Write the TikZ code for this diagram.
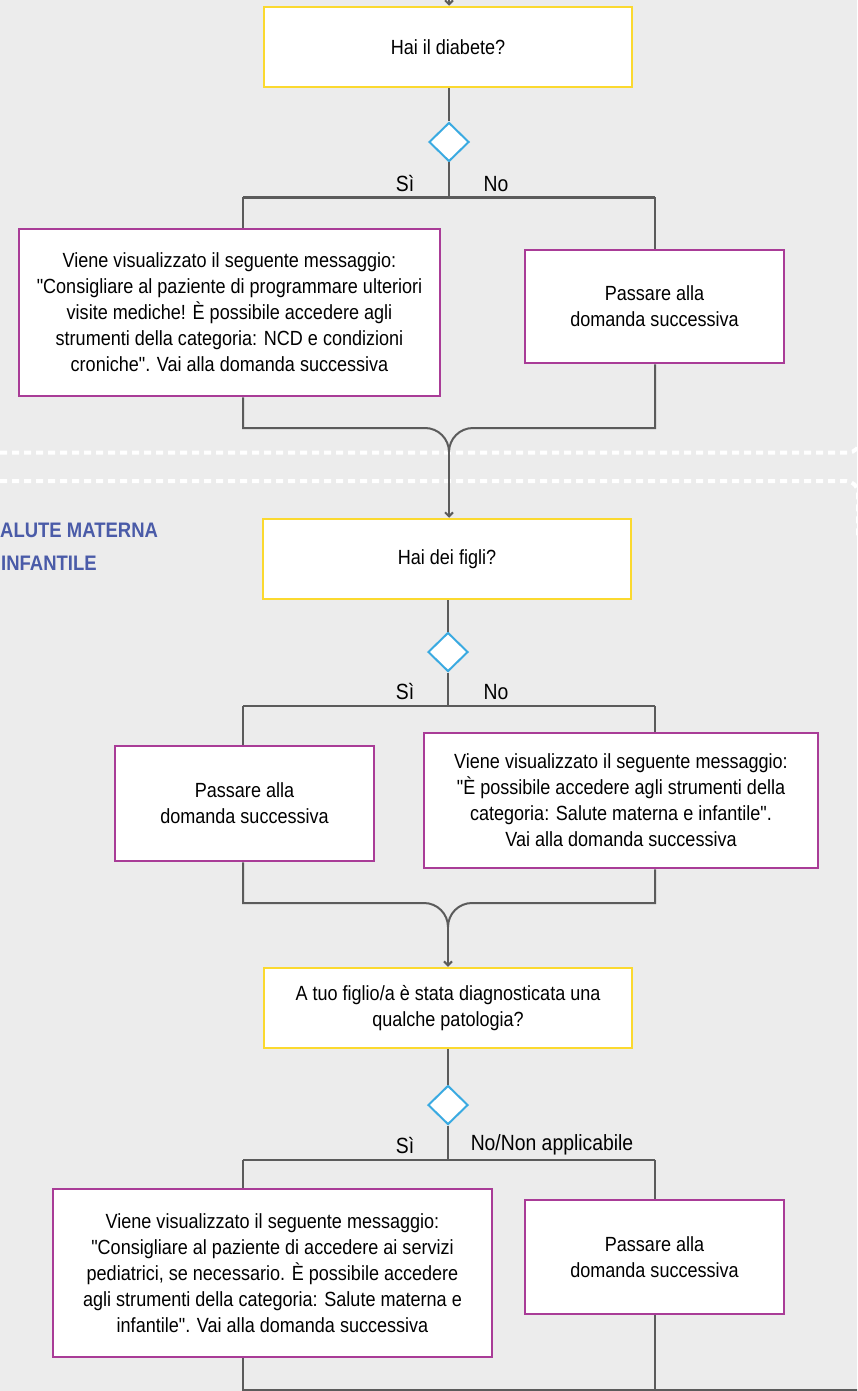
\documentclass[tikz,border=0pt]{standalone}
\usepackage{fontspec}
\setmainfont{Liberation Sans}[FakeStretch=0.88, Ligatures=TeXOff]
\usetikzlibrary{arrows.meta,shapes.geometric}
\definecolor{bgc}{HTML}{ECECEC}
\definecolor{ybord}{HTML}{FBD92F}
\definecolor{mbord}{HTML}{A93C97}
\definecolor{dblue}{HTML}{3AAAE1}
\definecolor{lcol}{HTML}{5B5B5B}
\definecolor{hblue}{HTML}{4A5BA8}
\begin{document}
\begin{tikzpicture}[x=1pt,y=-1pt,
  txt/.style={font=\fontsize{20.5}{26}\selectfont, align=center, text=black},
  qbox/.style={txt, draw=ybord, line width=2.5pt, fill=white, inner sep=0pt},
  mbox/.style={txt, draw=mbord, line width=2.5pt, fill=white, inner sep=0pt},
  decis/.style={diamond, draw=dblue, line width=2pt, fill=white, inner sep=0pt, minimum width=40pt, minimum height=39pt},
  conn/.style={draw=lcol, line width=2pt},
  arr/.style={conn, -{Straight Barb[length=4pt,width=8pt]}},
  lbl/.style={font=\fontsize{22}{26}\selectfont, text=black, inner sep=0pt},
  sect/.style={font=\bfseries\fontsize{21}{25}\selectfont, text=hblue, inner sep=0pt, anchor=west},
  dots/.style={draw=white, line width=4pt, dash pattern=on 7pt off 5pt}
]
\fill[bgc] (0,0) rectangle (857,1391);
\useasboundingbox (0,0) rectangle (857,1391);
\clip (0,0) rectangle (857,1391);

% section separators
\draw[dots] (0,452.5) -- (848,452.5) arc[start angle=90, end angle=0, radius=12] -- (860,400);
\draw[dots] (0,481) -- (846,481) arc[start angle=-90, end angle=0, radius=12] -- (858,540);

\node[sect] (h1) at (0,530) {ALUTE MATERNA};
\node[sect] (h2) at (1,563) {INFANTILE};

% ---------- block 1
\coordinate (top0) at (449,-2);
\node[qbox, minimum width=368pt, minimum height=80pt] (q1) at (448,47) {Hai il diabete?};
\node[decis] (d1) at (449,142) {};
\node[mbox, minimum width=421pt, minimum height=167pt] (m1L) at (229.5,312.5) {Viene visualizzato il seguente messaggio:\\"Consigliare al paziente di programmare ulteriori\\visite mediche! È possibile accedere agli\\strumenti della categoria: NCD e condizioni\\croniche". Vai alla domanda successiva};
\node[mbox, minimum width=259pt, minimum height=113pt] (m1R) at (654.5,306.5) {Passare alla\\domanda successiva};
\coordinate (c1) at (449,197.5);
\coordinate (L1) at (243,197.5);
\coordinate (R1) at (655,197.5);
\node[lbl] (s1) at (405,184) {Sì};
\node[lbl] (n1) at (496,184) {No};

\draw[arr] (top0) -- (top0 |- q1.north);
\draw[conn] (q1.south -| d1) -- (d1.north);
\draw[conn] (d1.south) -- (c1);
\draw[conn] (L1) -- (R1);
\draw[conn] (L1) -- (L1 |- m1L.north);
\draw[conn] (R1) -- (R1 |- m1R.north);
\coordinate (j1) at (449,452);
\draw[conn] (L1 |- m1L.south) -- (243,428) -- (425,428) arc[start angle=-90, end angle=0, radius=24];
\draw[conn] (R1 |- m1R.south) -- (655,428) -- (473,428) arc[start angle=-90, end angle=-180, radius=24];

% ---------- block 2
\node[qbox, minimum width=368pt, minimum height=80pt] (q2) at (447,559) {Hai dei figli?};
\draw[arr] (j1) -- (j1 |- q2.north);
\node[decis] (d2) at (448,652) {};
\node[mbox, minimum width=259pt, minimum height=115pt] (m2L) at (244.5,803.5) {Passare alla\\domanda successiva};
\node[mbox, minimum width=394pt, minimum height=135pt] (m2R) at (621,800.5) {Viene visualizzato il seguente messaggio:\\"È possibile accedere agli strumenti della\\categoria: Salute materna e infantile".\\Vai alla domanda successiva};
\coordinate (c2) at (448,706);
\coordinate (L2) at (243,706);
\coordinate (R2) at (655,706);
\node[lbl] (s2) at (405,692) {Sì};
\node[lbl] (n2) at (496,692) {No};
\draw[conn] (q2.south -| d2) -- (d2.north);
\draw[conn] (d2.south) -- (c2);
\draw[conn] (L2) -- (R2);
\draw[conn] (L2) -- (L2 |- m2L.north);
\draw[conn] (R2) -- (R2 |- m2R.north);
\coordinate (j2) at (448,927);
\draw[conn] (L2 |- m2L.south) -- (243,903) -- (424,903) arc[start angle=-90, end angle=0, radius=24];
\draw[conn] (R2 |- m2R.south) -- (655,903) -- (472,903) arc[start angle=-90, end angle=-180, radius=24];

% ---------- block 3
\node[qbox, minimum width=368pt, minimum height=80pt] (q3) at (448,1008) {A tuo figlio/a è stata diagnosticata una\\qualche patologia?};
\draw[arr] (j2) -- (j2 |- q3.north);
\node[decis] (d3) at (448,1105) {};
\node[mbox, minimum width=439pt, minimum height=168pt] (m3L) at (272.5,1273) {Viene visualizzato il seguente messaggio:\\"Consigliare al paziente di accedere ai servizi\\pediatrici, se necessario. È possibile accedere\\agli strumenti della categoria: Salute materna e\\infantile". Vai alla domanda successiva};
\node[mbox, minimum width=259pt, minimum height=114pt] (m3R) at (654.5,1257) {Passare alla\\domanda successiva};
\coordinate (c3) at (448,1160);
\coordinate (L3) at (243,1160);
\coordinate (R3) at (655,1160);
\node[lbl] (s3) at (405,1145) {Sì};
\node[lbl] (n3) at (552,1145) {No/Non applicabile};
\draw[conn] (q3.south -| d3) -- (d3.north);
\draw[conn] (d3.south) -- (c3);
\draw[conn] (L3) -- (R3);
\draw[conn] (L3) -- (L3 |- m3L.north);
\draw[conn] (R3) -- (R3 |- m3R.north);
\coordinate (e1) at (243,1390);
\coordinate (e2) at (655,1390);
\coordinate (e3) at (860,1390);
\draw[conn] (L3 |- m3L.south) -- (e1) -- (e3);
\draw[conn] (R3 |- m3R.south) -- (e2);
\end{tikzpicture}
\end{document}
